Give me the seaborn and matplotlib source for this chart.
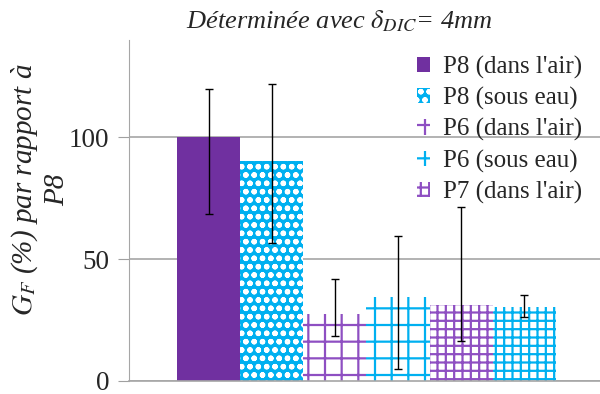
import numpy as np
import matplotlib
matplotlib.use("Agg")
import matplotlib.pyplot as plt
import seaborn as sns

# values
groups = ["P8 (dans l'air)", "P8 (sous eau)", "P6 (dans l'air)",
          "P6 (sous eau)", "P7 (dans l'air)", "P7 (sous eau)"]
values = [100, 90.5, 27.5, 34.3, 31.3, 30.2]
err_low = [68.7, 56.6, 18.4, 4.9, 16.5, 26.1]
err_high = [120.0, 122.0, 41.7, 59.6, 71.6, 35.4]
legend_labels = groups[:5]

purple = "#7030A0"
purple_light = "#8E4FC2"
cyan = "#00B0F0"

sns.set_style("white")
plt.rcParams["font.family"] = ["Liberation Serif", "DejaVu Serif"]
plt.rcParams["mathtext.fontset"] = "stix"
plt.rcParams["hatch.linewidth"] = 1.6

fig = plt.figure(figsize=(6, 3.94), dpi=100)
ax = fig.add_axes([129 / 600, 13 / 394, 471 / 600, 341 / 394])

sns.barplot(x=groups, y=values, hue=groups, palette=[purple] * 6,
            width=1.0, legend=False, ax=ax, linewidth=0)

styles = [
    dict(fc=purple, ec=purple, hatch=None),
    dict(fc=cyan, ec="white", hatch="oo"),
    dict(fc="white", ec=purple_light, hatch="+"),
    dict(fc="white", ec=cyan, hatch="+"),
    dict(fc="white", ec=purple_light, hatch="++"),
    dict(fc="white", ec=cyan, hatch="++"),
]
for p, st in zip(ax.patches, styles):
    p.set_facecolor(st["fc"])
    p.set_edgecolor(st["ec"])
    p.set_linewidth(0)
    if st["hatch"]:
        p.set_hatch(st["hatch"])

x = np.arange(len(values))
yerr = [np.array(values) - np.array(err_low), np.array(err_high) - np.array(values)]
ax.errorbar(x, values, yerr=yerr, fmt="none", ecolor="black",
            elinewidth=1, capsize=3, capthick=1, zorder=5)

ax.set_ylim(0, 140)
ax.set_xlim(-1.26, 6.2)
ax.set_yticks([0, 50, 100])
ax.set_xticks([])
ax.set_xlabel("")
ax.set_ylabel("")
ax.tick_params(axis="y", labelsize=19.5, length=8, color="#A0A0A0",
               direction="out", left=True, pad=6)
ax.yaxis.grid(True, color="#A6A6A6", linewidth=1.2)
ax.set_axisbelow(True)
for s in ["top", "right"]:
    ax.spines[s].set_visible(False)
ax.spines["left"].set_color("#A6A6A6")
ax.spines["bottom"].set_color("#A6A6A6")
ax.spines["bottom"].set_linewidth(1.2)

fig.text(339 / 600, 1 - 21 / 394, r"Déterminée avec $\delta_{DIC}$= 4mm",
         ha="center", va="center", fontsize=19, style="italic")
fig.text(40 / 600, 1 - 190 / 394, "$G_F$ (%) par rapport à\nP8",
         ha="center", va="center", rotation=90, fontsize=21,
         style="italic", multialignment="center", linespacing=1.2)

ax.legend(ax.patches[:5], legend_labels, loc="upper left",
          bbox_to_anchor=(404 / 600, 1 - 43 / 394), bbox_transform=fig.transFigure,
          frameon=False, fontsize=18, handlelength=0.55, handleheight=0.55,
          handletextpad=0.5, labelspacing=0.33, borderpad=0)

fig.savefig("out.png", dpi=100)
